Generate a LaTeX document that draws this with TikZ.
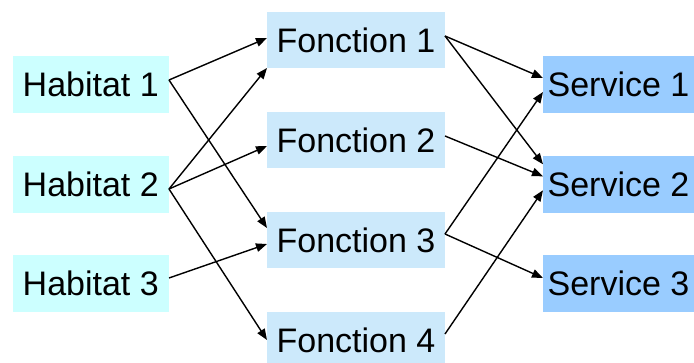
\documentclass[tikz,border=0pt]{standalone}
\usepackage{fontspec}
\setmainfont{Liberation Sans}
\usetikzlibrary{arrows.meta}
\begin{document}
\begin{tikzpicture}[x=1pt,y=1pt,
  box/.style={inner sep=0pt, outer sep=0pt, draw=none, align=center,
    font=\fontsize{34}{34}\selectfont, text height=24.3pt, text depth=0pt},
  habitat/.style={box, fill=habfill, minimum width=156.5pt, minimum height=57pt},
  fonction/.style={box, fill=fonfill, minimum width=178pt, minimum height=56pt},
  service/.style={box, fill=serfill, minimum width=151pt, minimum height=57pt},
  link/.style={draw=black, line width=1.4pt, -{Triangle[length=11pt,width=8.5pt]}}]
\definecolor{habfill}{HTML}{CCFFFF}
\definecolor{fonfill}{HTML}{CCE9FB}
\definecolor{serfill}{HTML}{99CCFF}
\clip (0,0) rectangle (694,363);

% habitats
\node[habitat] (h1) at (90.75,278.5) {Habitat 1};
\node[habitat] (h2) at (90.75,178.7) {Habitat 2};
\node[habitat] (h3) at (90.75,79.5)  {Habitat 3};

% fonctions
\node[fonction] (f1) at (356,323) {Fonction 1};
\node[fonction] (f2) at (356,223) {Fonction 2};
\node[fonction] (f3) at (356,123) {Fonction 3};
\node[fonction] (f4) at (356,23)  {Fonction 4};

% services
\node[service] (s1) at (618.5,278.5) {Service 1};
\node[service] (s2) at (618.5,178.7) {Service 2};
\node[service] (s3) at (618.5,79.5)  {Service 3};

% habitats -> fonctions
\draw[link] ([yshift=4.5pt]h1.east) -- ([yshift=2pt]f1.west);
\draw[link] ([yshift=4.5pt]h1.east) -- ([yshift=12pt]f3.west);
\draw[link] ([yshift=-4.7pt]h2.east) -- (f1.south west);
\draw[link] ([yshift=-4.7pt]h2.east) -- ([yshift=-6pt]f2.west);
\draw[link] ([yshift=-4.7pt]h2.east) -- (f4.west);
\draw[link] ([yshift=5.5pt]h3.east) -- ([yshift=-4pt]f3.west);

% fonctions -> services
\draw[link] ([yshift=4pt]f1.east) -- ([yshift=6.5pt]s1.west);
\draw[link] ([yshift=4pt]f1.east) -- ([yshift=20pt]s2.west);
\draw[link] ([yshift=4pt]f2.east) -- ([yshift=8pt]s2.west);
\draw[link] ([yshift=6pt]f3.east) -- ([yshift=-7.5pt]s1.west);
\draw[link] ([yshift=6pt]f3.east) -- ([yshift=5.5pt]s3.west);
\draw[link] ([yshift=6pt]f4.east) -- ([yshift=-6pt]s2.west);
\end{tikzpicture}
\end{document}
